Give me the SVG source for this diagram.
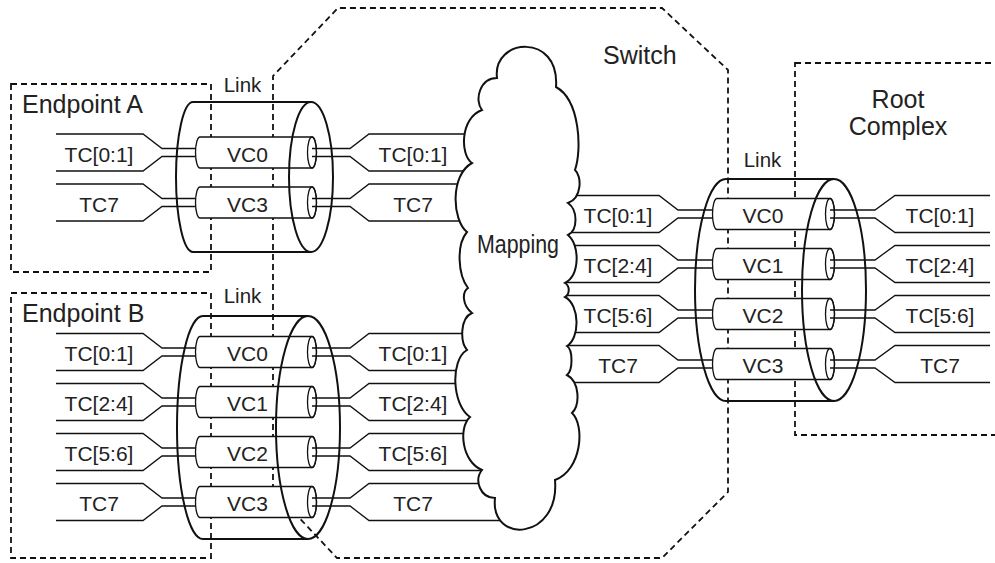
<svg xmlns="http://www.w3.org/2000/svg" width="995" height="563" viewBox="0 0 995 563">
<style>
text{font-family:"Liberation Sans",Arial,sans-serif;fill:#222}
.big{font-size:25px}
.lbl{font-size:21px;text-anchor:middle}
.lnk{font-size:20.5px;text-anchor:middle}
.dash{fill:none;stroke:#111;stroke-width:1.8;stroke-dasharray:6 4}
.cyl{fill:none;stroke:#111;stroke-width:2}
.tube{fill:#fff;stroke:#111;stroke-width:1.3}
.end{fill:none;stroke:#111;stroke-width:1.3}
.w{fill:none;stroke:#111;stroke-width:1.3}
.cloud{fill:#fff;stroke:#111;stroke-width:2}
</style>
<rect width="995" height="563" fill="#fff"/>

<g id="endpointA">
<rect class="dash" x="11" y="84" width="200" height="188"/>
<text class="big" x="22" y="113">Endpoint A</text>
<text class="lbl" x="99" y="161.5">TC[0:1]</text>
<text class="lbl" x="99" y="211.5">TC7</text>
</g>
<g id="endpointB">
<rect class="dash" x="11" y="293" width="200" height="265"/>
<text class="big" x="22" y="322">Endpoint B</text>
<text class="lbl" x="99" y="361">TC[0:1]</text>
<text class="lbl" x="99" y="411">TC[2:4]</text>
<text class="lbl" x="99" y="461">TC[5:6]</text>
<text class="lbl" x="99" y="511">TC7</text>
</g>
<g id="switch">
<polygon class="dash" points="273,490 273,76 338,8 662,8 728,70 728,492 662,558 337,558"/>
<text class="big" x="603" y="64">Switch</text>
<text class="lbl" x="413" y="161.5">TC[0:1]</text>
<text class="lbl" x="413" y="211.5">TC7</text>
<text class="lbl" x="413" y="361">TC[0:1]</text>
<text class="lbl" x="413" y="411">TC[2:4]</text>
<text class="lbl" x="413" y="461">TC[5:6]</text>
<text class="lbl" x="413" y="511">TC7</text>
<text class="lbl" x="618" y="223">TC[0:1]</text>
<text class="lbl" x="618" y="273">TC[2:4]</text>
<text class="lbl" x="618" y="323">TC[5:6]</text>
<text class="lbl" x="618" y="373">TC7</text>
</g>
<g id="rootComplex">
<rect class="dash" x="795" y="63" width="220" height="372"/>
<text class="big" x="898" y="108" text-anchor="middle">Root</text>
<text class="big" x="898" y="135" text-anchor="middle">Complex</text>
<text class="lbl" x="940" y="223">TC[0:1]</text>
<text class="lbl" x="940" y="273">TC[2:4]</text>
<text class="lbl" x="940" y="323">TC[5:6]</text>
<text class="lbl" x="940" y="373">TC7</text>
</g>

<g id="connectors">
<path class="w" d="M56,134 H143 L162,148.5 H205 M56,171 H143 L162,156.5 H205"/>
<path class="w" d="M56,184 H143 L162,198.5 H205 M56,221 H143 L162,206.5 H205"/>
<path class="w" d="M56,333.5 H143 L162,348 H205 M56,370.5 H143 L162,356 H205"/>
<path class="w" d="M56,383.5 H143 L162,398 H205 M56,420.5 H143 L162,406 H205"/>
<path class="w" d="M56,433.5 H143 L162,448 H205 M56,470.5 H143 L162,456 H205"/>
<path class="w" d="M56,483.5 H143 L162,498 H205 M56,520.5 H143 L162,506 H205"/>
<path class="w" d="M555,195.5 H659 L678,210 H720 M555,232.5 H659 L678,218 H720"/>
<path class="w" d="M555,245.5 H659 L678,260 H720 M555,282.5 H659 L678,268 H720"/>
<path class="w" d="M555,295.5 H659 L678,310 H720 M555,332.5 H659 L678,318 H720"/>
<path class="w" d="M555,345.5 H659 L678,360 H720 M555,382.5 H659 L678,368 H720"/>
</g>

<g id="linkA">
<path class="cyl" d="M311,102 H193 A17 75 0 0 0 193,252 H311"/>
<path class="tube" d="M200,137 H312 A4.5 15.5 0 0 1 312,168 H200 A4.5 15.5 0 0 1 200,137 Z"/>
<ellipse class="end" cx="312" cy="152.5" rx="4.5" ry="15.5"/>
<path class="tube" d="M200,187 H312 A4.5 15.5 0 0 1 312,218 H200 A4.5 15.5 0 0 1 200,187 Z"/>
<ellipse class="end" cx="312" cy="202.5" rx="4.5" ry="15.5"/>
<ellipse class="cyl" cx="311" cy="177" rx="22" ry="75"/>
<text class="lnk" x="242.5" y="92">Link</text>
<text class="lbl" x="247.5" y="161.5">VC0</text>
<text class="lbl" x="247.5" y="211.5">VC3</text>
</g>

<g id="linkB">
<path class="cyl" d="M308,316 H203 A26 111.5 0 0 0 203,539 H308"/>
<path class="tube" d="M200,336.5 H312 A4.5 15.5 0 0 1 312,367.5 H200 A4.5 15.5 0 0 1 200,336.5 Z"/>
<ellipse class="end" cx="312" cy="352" rx="4.5" ry="15.5"/>
<path class="tube" d="M200,386.5 H312 A4.5 15.5 0 0 1 312,417.5 H200 A4.5 15.5 0 0 1 200,386.5 Z"/>
<ellipse class="end" cx="312" cy="402" rx="4.5" ry="15.5"/>
<path class="tube" d="M200,436.5 H312 A4.5 15.5 0 0 1 312,467.5 H200 A4.5 15.5 0 0 1 200,436.5 Z"/>
<ellipse class="end" cx="312" cy="452" rx="4.5" ry="15.5"/>
<path class="tube" d="M200,486.5 H312 A4.5 15.5 0 0 1 312,517.5 H200 A4.5 15.5 0 0 1 200,486.5 Z"/>
<ellipse class="end" cx="312" cy="502" rx="4.5" ry="15.5"/>
<ellipse class="cyl" cx="308" cy="427.5" rx="32" ry="111.5"/>
<text class="lnk" x="242.5" y="303">Link</text>
<text class="lbl" x="247.5" y="361">VC0</text>
<text class="lbl" x="247.5" y="411">VC1</text>
<text class="lbl" x="247.5" y="461">VC2</text>
<text class="lbl" x="247.5" y="511">VC3</text>
</g>

<g id="linkRC">
<path class="cyl" d="M834,179 H726 A31 111 0 0 0 726,401 H834"/>
<path class="tube" d="M717,198.5 H830 A4.5 15.5 0 0 1 830,229.5 H717 A4.5 15.5 0 0 1 717,198.5 Z"/>
<ellipse class="end" cx="830" cy="214" rx="4.5" ry="15.5"/>
<path class="tube" d="M717,248.5 H830 A4.5 15.5 0 0 1 830,279.5 H717 A4.5 15.5 0 0 1 717,248.5 Z"/>
<ellipse class="end" cx="830" cy="264" rx="4.5" ry="15.5"/>
<path class="tube" d="M717,298.5 H830 A4.5 15.5 0 0 1 830,329.5 H717 A4.5 15.5 0 0 1 717,298.5 Z"/>
<ellipse class="end" cx="830" cy="314" rx="4.5" ry="15.5"/>
<path class="tube" d="M717,348.5 H830 A4.5 15.5 0 0 1 830,379.5 H717 A4.5 15.5 0 0 1 717,348.5 Z"/>
<ellipse class="end" cx="830" cy="364" rx="4.5" ry="15.5"/>
<ellipse class="cyl" cx="834" cy="290" rx="32" ry="111"/>
<text class="lnk" x="762.5" y="167">Link</text>
<text class="lbl" x="763" y="223">VC0</text>
<text class="lbl" x="763" y="273">VC1</text>
<text class="lbl" x="763" y="323">VC2</text>
<text class="lbl" x="763" y="373">VC3</text>
</g>

<g id="connectors-out">
<path class="w" d="M312,148.5 H350 L369,134 H520 M312,156.5 H350 L369,171 H520"/>
<path class="w" d="M312,198.5 H350 L369,184 H520 M312,206.5 H350 L369,221 H520"/>
<path class="w" d="M312,348 H350 L369,333.5 H520 M312,356 H350 L369,370.5 H520"/>
<path class="w" d="M312,398 H350 L369,383.5 H520 M312,406 H350 L369,420.5 H520"/>
<path class="w" d="M312,448 H350 L369,433.5 H520 M312,456 H350 L369,470.5 H520"/>
<path class="w" d="M312,498 H350 L369,483.5 H520 M312,506 H350 L369,520.5 H520"/>
<path class="w" d="M830,210 H875 L895,195.5 H990 M830,218 H875 L895,232.5 H990"/>
<path class="w" d="M830,260 H875 L895,245.5 H990 M830,268 H875 L895,282.5 H990"/>
<path class="w" d="M830,310 H875 L895,295.5 H990 M830,318 H875 L895,332.5 H990"/>
<path class="w" d="M830,360 H875 L895,345.5 H990 M830,368 H875 L895,382.5 H990"/>
</g>

<g id="mapping">
<path class="cloud" d="M497,78 C492,38 560,32 556,87 C580,100 582,150 575,170 C582,176 582,198 568,203 C578,210 578,230 568,235 C580,245 580,275 565,283 C570,286 570,294 565,297 C580,305 580,338 567,346 C573,350 573,370 567,375 C580,382 580,405 572,413 C585,425 582,470 555,480 C560,540 490,545 495,498 C480,498 474,480 482,470 C462,462 458,428 470,417 C452,405 450,360 467,350 C460,342 460,318 472,313 C462,305 462,292 468,288 C458,275 456,245 467,232 C452,220 450,175 472,163 C460,155 460,118 482,110 C474,100 480,78 497,78 Z"/>
<text x="477" y="253" font-size="26" textLength="82" lengthAdjust="spacingAndGlyphs">Mapping</text>
</g>
</svg>
